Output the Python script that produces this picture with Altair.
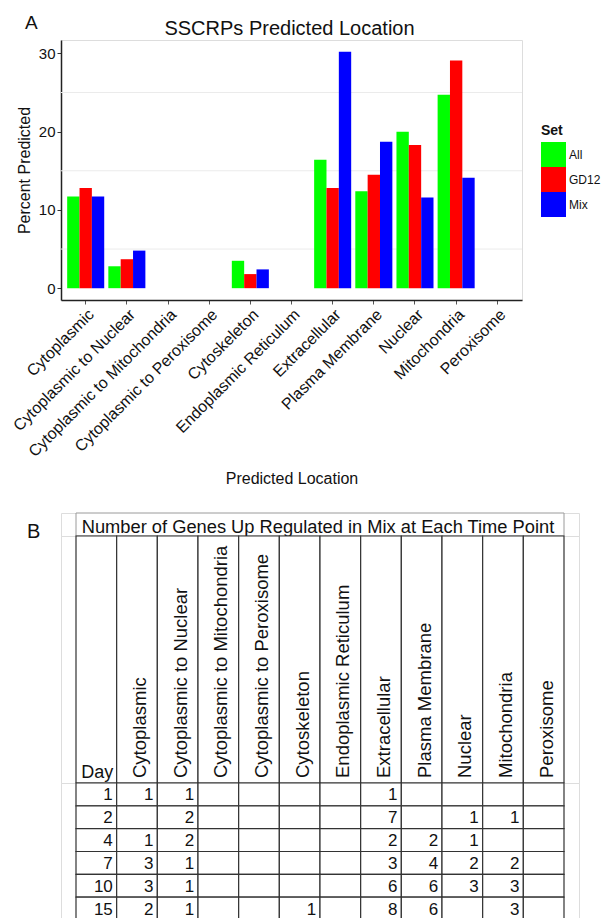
import altair as alt
import pandas as pd

FONT = "Liberation Sans"
TEXT = "#111111"

# ---------------- Panel A data ----------------
chart_title = "SSCRPs Predicted Location"
locations = ["Cytoplasmic", "Cytoplasmic to Nuclear", "Cytoplasmic to Mitochondria",
             "Cytoplasmic to Peroxisome", "Cytoskeleton", "Endoplasmic Reticulum",
             "Extracellular", "Plasma Membrane", "Nuclear", "Mitochondria", "Peroxisome"]
sets = ["All", "GD12", "Mix"]
set_colors = ["#00FF00", "#FF0000", "#0000FF"]
pct_all = [11.7, 2.8, None, None, 3.5, None, 16.4, 12.4, 20.0, 24.7, None]
pct_gd12 = [12.8, 3.7, None, None, 1.8, None, 12.8, 14.5, 18.3, 29.1, None]
pct_mix = [11.7, 4.8, None, None, 2.4, None, 30.2, 18.7, 11.6, 14.1, None]
y_tick_values = [0, 10, 20, 30]
y_grid_values = [5, 15, 25]
y_domain = [-1.51, 31.71]

# ---------------- Panel B data ----------------
table_title = "Number of Genes Up Regulated in Mix at Each Time Point"
days = [1, 2, 4, 7, 10, 15]
counts_cytoplasmic = [1, None, 1, 3, 3, 2]
counts_cyto_nuclear = [1, 2, 2, 1, 1, 1]
counts_cyto_mito = [None, None, None, None, None, None]
counts_cyto_perox = [None, None, None, None, None, None]
counts_cytoskeleton = [None, None, None, None, None, 1]
counts_er = [None, None, None, None, None, None]
counts_extracellular = [1, 7, 2, 3, 6, 8]
counts_plasma = [None, None, 2, 4, 6, 6]
counts_nuclear = [None, 1, 1, 2, 3, None]
counts_mito = [None, 1, None, 2, 3, 3]
counts_perox = [None, None, None, None, None, None]

# ---------------- layout constants ----------------
A_W, A_H = 461, 260
B_W = 518
COL_STEP = 40.667
TABLE_LEFT = 15
TITLE_H, HEADER_H, DATA_H = 23, 247, 137

# ---------------- Panel A ----------------
bar_rows = []
for s, vals in zip(sets, [pct_all, pct_gd12, pct_mix]):
    for loc, v in zip(locations, vals):
        if v is not None:
            bar_rows.append({"Location": loc, "Set": s, "Percent": v})
bars_df = pd.DataFrame(bar_rows)
grid_df = pd.DataFrame({"Percent": y_grid_values})

y_scale = alt.Scale(domain=y_domain, nice=False, zero=False)
y_axis = alt.Axis(values=y_tick_values, title="Percent Predicted", grid=False,
                  tickSize=4, tickColor="#333333", domainColor="#222222", domainWidth=1.5,
                  labelFont=FONT, labelFontSize=15, labelColor=TEXT, labelPadding=2,
                  titleFont=FONT, titleFontSize=16, titleFontWeight="normal",
                  titleColor=TEXT, titlePadding=6)

grid = alt.Chart(grid_df).mark_rule(color="#ebebeb", strokeWidth=1).encode(
    y=alt.Y("Percent:Q", scale=y_scale, axis=y_axis),
    x=alt.value(0), x2=alt.value(A_W))

bars = alt.Chart(bars_df).mark_bar().encode(
    x=alt.X("Location:N", sort=locations,
            scale=alt.Scale(domain=locations, paddingInner=0.1, paddingOuter=0.15),
            axis=alt.Axis(title="Predicted Location", labelAngle=-45, labelAlign="right",
                          labelBaseline="top", labelFont=FONT, labelFontSize=16,
                          labelColor=TEXT, labelPadding=2, labelLimit=400,
                          tickSize=4, tickColor="#555555", domainColor="#222222",
                          domainWidth=1.5, titleFont=FONT, titleFontSize=16,
                          titleFontWeight="normal", titleColor=TEXT, titlePadding=11,
                          grid=False)),
    xOffset=alt.XOffset("Set:N", sort=sets,
                        scale=alt.Scale(domain=sets, paddingInner=0, paddingOuter=0)),
    y=alt.Y("Percent:Q", scale=y_scale, axis=y_axis),
    y2=alt.datum(0),
    color=alt.Color("Set:N", sort=sets,
                    scale=alt.Scale(domain=sets, range=set_colors),
                    legend=alt.Legend(title="Set", orient="none", legendX=480, legendY=84,
                                      symbolType="square", symbolSize=625,
                                      symbolStrokeWidth=0, rowPadding=0, padding=0,
                                      titleFont=FONT, titleFontSize=14,
                                      titleFontWeight="bold", titleColor=TEXT,
                                      titlePadding=4, labelFont=FONT, labelFontSize=12,
                                      labelColor=TEXT, labelOffset=3)),
)

a_label = alt.Chart(pd.DataFrame({"label": ["A"]})).mark_text(
    font=FONT, fontSize=19, align="left", baseline="alphabetic", color=TEXT
).encode(x=alt.value(-36), y=alt.value(-11), text="label:N")

a_title = alt.Chart(pd.DataFrame({"title": [chart_title]})).mark_text(
    font=FONT, fontSize=20, align="center", baseline="alphabetic", color=TEXT
).encode(x=alt.value(A_W / 2 - 2), y=alt.value(-5), text="title:N")

chart_a = alt.layer(grid, bars, a_label, a_title).properties(width=A_W, height=A_H)

# ---------------- Panel B ----------------
cols = ["Day"] + locations
x_scale_b = alt.Scale(domain=cols, paddingInner=0, paddingOuter=TABLE_LEFT / COL_STEP)
x_b = alt.X("Col:N", sort=cols, scale=x_scale_b, axis=None)

# title row
title_df = pd.DataFrame({"title": [table_title]})
title_frame = alt.Chart(title_df).mark_rect(fill="white", stroke="#9a9a9a", strokeWidth=1).encode(
    x=alt.value(TABLE_LEFT), x2=alt.value(TABLE_LEFT + 12 * COL_STEP),
    y=alt.value(0), y2=alt.value(TITLE_H))
title_text = alt.Chart(title_df).mark_text(
    font=FONT, fontSize=18.3, align="center", baseline="alphabetic", color=TEXT
).encode(x=alt.value(TABLE_LEFT + 6 * COL_STEP - 2), y=alt.value(20), text="title:N")
b_label = alt.Chart(pd.DataFrame({"label": ["B"]})).mark_text(
    font=FONT, fontSize=20, align="left", baseline="alphabetic", color=TEXT
).encode(x=alt.value(-34), y=alt.value(25), text="label:N")
b_title = alt.layer(title_frame, title_text, b_label).properties(width=B_W, height=TITLE_H)

# header row
header_df = pd.DataFrame({"Col": cols})
header_cells = alt.Chart(header_df).mark_rect(fill="white", stroke="#333333", strokeWidth=1.2).encode(
    x=x_b, y=alt.value(0), y2=alt.value(HEADER_H))
header_text = alt.Chart(pd.DataFrame({"Col": locations})).mark_text(
    font=FONT, fontSize=18.5, angle=270, align="left", baseline="middle", dy=3, color=TEXT
).encode(x=x_b, y=alt.value(HEADER_H - 5), text="Col:N")
day_text = alt.Chart(pd.DataFrame({"Col": ["Day"]})).mark_text(
    font=FONT, fontSize=18, align="right", baseline="alphabetic", dx=17, color=TEXT
).encode(x=x_b, y=alt.value(HEADER_H - 5), text="Col:N")
b_header = alt.layer(header_cells, header_text, day_text).properties(width=B_W, height=HEADER_H)

# data rows
count_columns = [counts_cytoplasmic, counts_cyto_nuclear, counts_cyto_mito, counts_cyto_perox,
                 counts_cytoskeleton, counts_er, counts_extracellular, counts_plasma,
                 counts_nuclear, counts_mito, counts_perox]
row_labels = [str(d) for d in days]
cell_rows = []
for i, d in enumerate(days):
    cell_rows.append({"Row": str(d), "Col": "Day", "val": str(d)})
    for loc, vals in zip(locations, count_columns):
        v = vals[i]
        cell_rows.append({"Row": str(d), "Col": loc, "val": "" if v is None else str(v)})
cells_df = pd.DataFrame(cell_rows)
y_b = alt.Y("Row:N", sort=row_labels,
            scale=alt.Scale(domain=row_labels, paddingInner=0, paddingOuter=0), axis=None)
data_cells = alt.Chart(cells_df).mark_rect(fill="white", stroke="#333333", strokeWidth=1.2).encode(
    x=x_b, y=y_b)
data_text = alt.Chart(cells_df).mark_text(
    font=FONT, fontSize=17, align="right", baseline="middle", dx=16.5, dy=1, color=TEXT
).encode(x=x_b, y=y_b, text="val:N")
b_data = alt.layer(data_cells, data_text).properties(width=B_W, height=DATA_H)

chart_b = alt.vconcat(b_title, b_header, b_data, spacing=0, bounds="flush")

chart = alt.vconcat(chart_a, chart_b, spacing=213, bounds="flush").properties(
    autosize=alt.AutoSizeParams(type="none"),
    padding={"left": 61, "top": 40, "right": 540, "bottom": 878},
).configure_view(stroke="transparent").configure(font=FONT)

chart.save("out.html", embed_options={"renderer": "svg", "actions": False})
